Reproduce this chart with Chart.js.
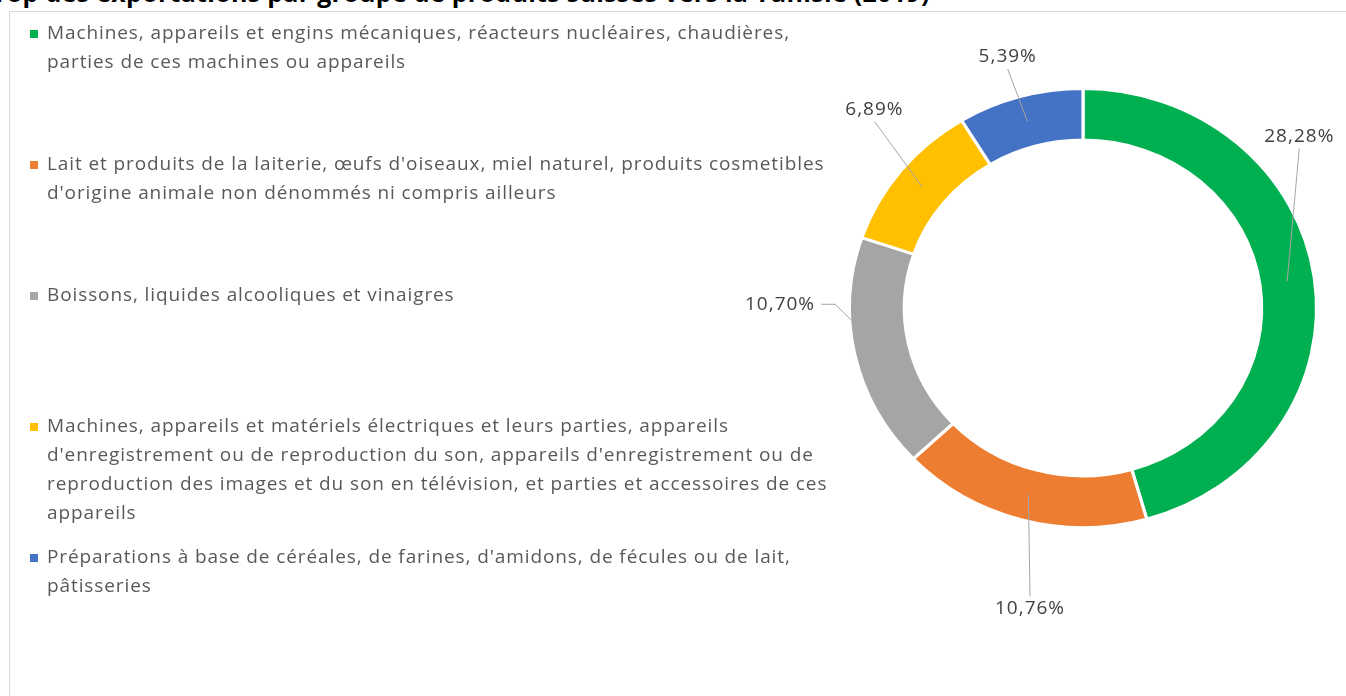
<!DOCTYPE html>
<html>
<head>
<meta charset="utf-8">
<script src="https://cdn.jsdelivr.net/npm/chart.js@4.4.1/dist/chart.umd.min.js"></script>
<style>
  html, body { margin: 0; padding: 0; background: #fff; overflow: hidden; }
  #wrap { position: relative; width: 1346px; height: 696px; overflow: hidden; }
  #frame { position: absolute; left: 9px; top: 11px; width: 1400px; height: 800px; border: 1px solid #d9d9d9; }
  #title { position: absolute; left: -8px; top: -25px; line-height: 26px; font: bold 25px "Open Sans", sans-serif; letter-spacing: 0.3px; color: #000; white-space: nowrap; }
  #box { position: absolute; left: 0; top: 0; width: 1346px; height: 696px; }
</style>
</head>
<body>
<div id="wrap">
  <div id="frame"></div>
  <div id="title">Top des exportations par groupe de produits suisses vers la Tunisie (2019)</div>
  <div id="box"><canvas id="myChart"></canvas></div>
</div>
<script>
// categories (multi-line, as wrapped in the original legend)
const categories = [
  ['Machines, appareils et engins mécaniques, réacteurs nucléaires, chaudières,', 'parties de ces machines ou appareils'],
  ["Lait et produits de la laiterie, œufs d'oiseaux, miel naturel, produits cosmetibles", "d'origine animale non dénommés ni compris ailleurs"],
  ['Boissons, liquides alcooliques et vinaigres'],
  ['Machines, appareils et matériels électriques et leurs parties, appareils',
   "d'enregistrement ou de reproduction du son, appareils d'enregistrement ou de",
   'reproduction des images et du son en télévision, et parties et accessoires de ces',
   'appareils'],
  ["Préparations à base de céréales, de farines, d'amidons, de fécules ou de lait,", 'pâtisseries']
];
const shares = [28.28, 10.76, 10.70, 6.89, 5.39];
const colors = ['#00B050', '#ED7D31', '#A5A5A5', '#FFC000', '#4472C4'];

const fmt = v => v.toFixed(2).replace('.', ',') + '%';

// the original ring is a bit wider than tall
const stretch = {
  id: 'stretch',
  beforeDatasetsDraw(chart, args, opts) {
    const a = chart.getDatasetMeta(0).data[0];
    chart.ctx.save();
    chart.ctx.translate(a.x, a.y);
    chart.ctx.scale(opts.sx, 1);
    chart.ctx.translate(-a.x, -a.y);
  },
  afterDatasetsDraw(chart) {
    chart.ctx.restore();
  }
};

// legend on the left, drawn on the canvas
const sideLegend = {
  id: 'sideLegend',
  afterDraw(chart, args, opts) {
    const ctx = chart.ctx;
    const ds = chart.data.datasets[0];
    ctx.save();
    ctx.font = opts.font;
    ctx.letterSpacing = opts.spacing;
    ctx.textBaseline = 'middle';
    chart.data.labels.forEach((lines, i) => {
      const y0 = opts.top + i * opts.step;
      ctx.fillStyle = ds.backgroundColor[i];
      ctx.fillRect(opts.left, y0 - 4, 8, 8);
      ctx.fillStyle = opts.color;
      lines.forEach((ln, j) => ctx.fillText(ln, opts.left + 17, y0 + j * opts.lineHeight));
    });
    ctx.restore();
  }
};

// percentage labels with leader lines
const arcLabels = {
  id: 'arcLabels',
  afterDatasetsDraw(chart, args, opts) {
    const ctx = chart.ctx;
    const meta = chart.getDatasetMeta(0);
    const sx = chart.options.plugins.stretch.sx;
    ctx.save();
    ctx.font = opts.font;
    ctx.letterSpacing = opts.spacing;
    ctx.textBaseline = 'middle';
    ctx.textAlign = 'center';
    meta.data.forEach((arc, i) => {
      const p = arc.getProps(['x', 'y', 'startAngle', 'endAngle', 'innerRadius', 'outerRadius'], true);
      const mid = (p.startAngle + p.endAngle) / 2;
      const rm = (p.innerRadius + p.outerRadius) / 2;
      const ax = p.x + sx * rm * Math.cos(mid), ay = p.y + rm * Math.sin(mid);
      const [deg, dist] = opts.spots[i];
      const a = (deg - 90) * Math.PI / 180;
      const lx = p.x + dist * Math.cos(a), ly = p.y + dist * Math.sin(a);
      const txt = fmt(chart.data.datasets[0].data[i]);
      const w = ctx.measureText(txt).width;
      ctx.strokeStyle = opts.lineColor;
      ctx.lineWidth = 1;
      ctx.beginPath();
      if (Math.abs(Math.sin(a)) < 0.3) {
        const sgn = ax > lx ? 1 : -1;
        const sx0 = lx + sgn * (w / 2 + 6);
        ctx.moveTo(sx0, ly);
        ctx.lineTo(sx0 + sgn * 14, ly);
        ctx.lineTo(ax, ay);
      } else {
        const sy = ly + (ay > ly ? 1 : -1) * 12;
        ctx.moveTo(lx, sy);
        ctx.lineTo(ax, ay);
      }
      ctx.stroke();
      ctx.fillStyle = opts.color;
      ctx.fillText(txt, lx, ly);
    });
    ctx.restore();
  }
};

const ctx = document.getElementById('myChart').getContext('2d');
new Chart(ctx, {
  type: 'doughnut',
  data: {
    labels: categories,
    datasets: [{
      data: shares,
      backgroundColor: colors,
      borderColor: '#ffffff',
      borderWidth: 3
    }]
  },
  options: {
    responsive: true,
    maintainAspectRatio: false,
    animation: false,
    cutout: '76.5%',
    layout: { padding: { left: 862, right: 42, top: 87, bottom: 167 } },
    plugins: {
      legend: { display: false },
      tooltip: { enabled: false },
      stretch: { sx: 1.064 },
      sideLegend: { left: 30, top: 34, step: 131, lineHeight: 29, font: '19px "Open Sans"', spacing: '0.9px', color: '#595959' },
      arcLabels: {
        font: '19px "Open Sans"', spacing: '1px', color: '#404040', lineColor: '#a6a6a6',
        spots: [[51.6, 276], [190, 305], [270.7, 303], [313.6, 288], [343.3, 262]]
      }
    }
  },
  plugins: [stretch, sideLegend, arcLabels]
});
</script>
</body>
</html>
